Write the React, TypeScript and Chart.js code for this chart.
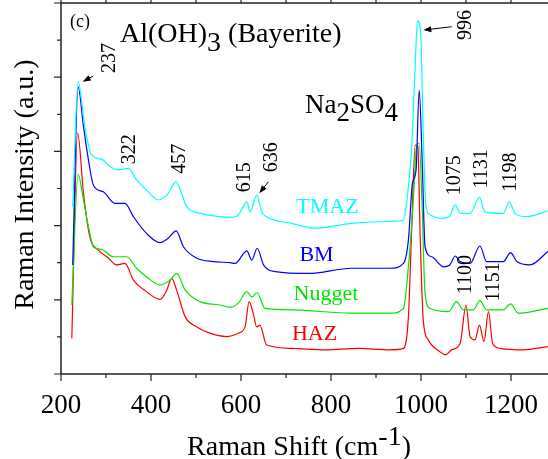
import { useEffect, useRef } from 'react';
import { Chart, registerables } from 'chart.js';
Chart.register(...registerables);

const FONT = '"Liberation Serif", "Times New Roman", Times, serif';

// ---- data (Raman shift in cm-1, intensity in a.u.) ----
const tmazX = [226, 238, 253, 268, 290, 309, 327, 350, 368, 394, 416, 435, 456, 468, 479, 509, 553, 576, 594, 605, 613, 620, 635, 646, 657, 713, 764, 846, 931, 961, 972, 979, 987, 992, 999, 1005, 1011, 1020, 1042, 1063, 1076, 1087, 1109, 1130, 1142, 1183, 1196, 1209, 1235, 1282];
const tmazY = [45.1, 78.8, 66.7, 59.0, 57.9, 55.9, 55.0, 55.4, 52.3, 49.1, 46.9, 48.2, 51.8, 48.7, 45.1, 43.3, 42.4, 42.2, 42.9, 45.1, 46.4, 43.7, 48.2, 43.7, 42.4, 40.6, 39.3, 40.6, 41.1, 41.5, 50.5, 60.4, 82.8, 95.2, 92.7, 64.9, 45.1, 42.9, 42.0, 42.4, 45.6, 43.3, 43.3, 47.6, 43.7, 43.3, 46.4, 43.3, 42.4, 44.0];

const bmX = [226, 238, 250, 261, 272, 294, 320, 342, 361, 390, 420, 438, 456, 472, 502, 538, 576, 587, 613, 624, 636, 650, 676, 750, 846, 931, 961, 972, 981, 989, 996, 1003, 1009, 1024, 1050, 1064, 1076, 1087, 1109, 1131, 1146, 1183, 1199, 1213, 1242, 1282];
const bmY = [29.4, 77.4, 66.7, 57.7, 50.9, 49.1, 46.0, 46.0, 42.4, 37.9, 35.4, 36.6, 38.6, 34.3, 31.2, 30.3, 30.0, 29.8, 33.2, 30.7, 33.9, 29.4, 27.6, 27.1, 28.5, 28.5, 29.8, 36.1, 51.4, 55.0, 76.5, 55.9, 34.3, 31.6, 28.9, 29.4, 31.8, 30.3, 29.8, 34.5, 30.3, 30.3, 32.7, 30.3, 29.4, 33.0];

const nuggetX = [224, 238, 250, 261, 272, 290, 316, 346, 368, 390, 420, 442, 457, 476, 509, 553, 576, 594, 613, 624, 636, 653, 713, 846, 931, 961, 972, 983, 990, 996, 1002, 1009, 1020, 1061, 1079, 1094, 1116, 1131, 1146, 1183, 1199, 1216, 1282];
const nuggetY = [18.6, 53.8, 46.9, 39.7, 34.3, 33.6, 31.6, 31.6, 28.5, 26.2, 24.0, 25.3, 27.1, 22.6, 19.5, 18.6, 18.0, 19.1, 22.2, 20.8, 21.9, 17.7, 17.3, 16.4, 16.4, 17.7, 28.9, 46.9, 61.3, 62.2, 46.9, 21.8, 17.7, 16.8, 19.5, 17.3, 17.3, 19.8, 17.3, 17.3, 18.9, 16.4, 17.7];

const hazX = [224, 237, 250, 264, 283, 302, 324, 342, 361, 390, 420, 435, 446, 457, 476, 502, 531, 568, 594, 609, 618, 627, 635, 642, 657, 713, 787, 861, 931, 961, 972, 979, 987, 993, 998, 1005, 1016, 1042, 1055, 1068, 1087, 1100, 1109, 1120, 1130, 1140, 1150, 1159, 1176, 1227, 1282];
const hazY = [9.6, 65.0, 48.7, 37.0, 33.4, 31.6, 29.4, 29.8, 25.3, 22.2, 20.1, 22.6, 25.8, 22.6, 15.4, 12.7, 11.0, 10.1, 11.0, 12.7, 19.5, 16.4, 12.7, 13.2, 7.8, 6.9, 6.5, 6.9, 6.5, 6.9, 15.4, 37.9, 61.7, 61.3, 37.9, 14.6, 9.2, 6.0, 5.2, 6.5, 8.3, 18.6, 10.1, 9.2, 13.2, 8.7, 16.8, 8.3, 6.9, 6.5, 7.4];

const seriesNames = ['TMAZ', 'BM', 'Nugget', 'HAZ'];
const seriesColors = ['#00ffff', '#0000ff', '#00e600', '#ff0000'];

// ---- axis ticks ----
const xTickLabels = [200, 400, 600, 800, 1000, 1200];
const xMinorTicks = [300, 500, 700, 900, 1100, 1300];
const yMajorTicks = [0, 20, 40, 60, 80, 100];
const yMinorTicks = [10, 30, 50, 70, 90];

// ---- peak annotations (rotated labels), in data coordinates ----
const peakTexts = ['237', '322', '457', '615', '636', '996', '1075', '1131', '1198', '1100', '1151'];
const peakLabelX = [307.8, 353.3, 463.3, 608.9, 667.8, 1100, 1074.4, 1135.6, 1198.9, 1098.9, 1161.1];
const peakLabelY = [85.2, 60.6, 58.0, 53.0, 58.4, 94.1, 53.6, 55.3, 54.4, 26.8, 24.8];

// arrows: tail -> head
const arrowTailX = [271.8, 660.7, 1068.2];
const arrowTailY = [80.3, 51.8, 93.6];
const arrowHeadX = [248.2, 640.7, 1005.1];
const arrowHeadY = [78.8, 48.7, 92.7];

// series name labels (center x, baseline y)
const nameLabelX = [792.2, 767.8, 788.9, 763.3];
const nameLabelY = [43.4, 30.5, 19.9, 9.2];

type Part = { t: string; dy: number };

function richWidth(ctx: CanvasRenderingContext2D, parts: Part[]) {
  return parts.reduce((w, p) => w + ctx.measureText(p.t).width, 0);
}
function drawRich(ctx: CanvasRenderingContext2D, parts: Part[], x: number, y: number) {
  let cx = x;
  for (const p of parts) {
    ctx.fillText(p.t, cx, y + p.dy);
    cx += ctx.measureText(p.t).width;
  }
}

const decorPlugin = {
  id: 'decor',
  afterDatasetsDraw(chart: any) {
    const { ctx, chartArea, scales } = chart;
    const { left, top, right, bottom } = chartArea;
    const xs = scales.x;
    const ys = scales.y;
    ctx.save();
    // frame
    ctx.strokeStyle = '#222';
    ctx.lineWidth = 1.5;
    ctx.beginPath();
    ctx.moveTo(left, bottom);
    ctx.lineTo(left, top);
    ctx.lineTo(right, top);
    ctx.lineTo(right, bottom);
    ctx.lineTo(left, bottom);
    ctx.stroke();
    // x ticks (bottom outward, top outward)
    ctx.lineWidth = 1.2;
    ctx.beginPath();
    const xt = (v: number, len: number) => {
      const px = xs.getPixelForValue(v);
      ctx.moveTo(px, bottom);
      ctx.lineTo(px, bottom + len);
      ctx.moveTo(px, top);
      ctx.lineTo(px, top - len);
    };
    xTickLabels.forEach((v) => xt(v, 7));
    xMinorTicks.forEach((v) => xt(v, 4));
    const yt = (v: number, len: number) => {
      const py = ys.getPixelForValue(v);
      ctx.moveTo(left, py);
      ctx.lineTo(left - len, py);
    };
    yMajorTicks.forEach((v) => yt(v, 7));
    yMinorTicks.forEach((v) => yt(v, 4));
    ctx.stroke();

    ctx.fillStyle = '#000';
    // rotated peak labels
    ctx.font = `20px ${FONT}`;
    ctx.textAlign = 'center';
    ctx.textBaseline = 'middle';
    peakTexts.forEach((t, i) => {
      const px = xs.getPixelForValue(peakLabelX[i]);
      const py = ys.getPixelForValue(peakLabelY[i]);
      ctx.save();
      ctx.translate(px, py);
      ctx.rotate(-Math.PI / 2);
      ctx.fillText(t, 0, 0);
      ctx.restore();
    });
    // arrows
    arrowTailX.forEach((_, i) => {
      const x1 = xs.getPixelForValue(arrowTailX[i]);
      const y1 = ys.getPixelForValue(arrowTailY[i]);
      const x2 = xs.getPixelForValue(arrowHeadX[i]);
      const y2 = ys.getPixelForValue(arrowHeadY[i]);
      const a = Math.atan2(y2 - y1, x2 - x1);
      ctx.strokeStyle = '#000';
      ctx.lineWidth = 1;
      ctx.beginPath();
      ctx.moveTo(x1, y1);
      ctx.lineTo(x2 - 5 * Math.cos(a), y2 - 5 * Math.sin(a));
      ctx.stroke();
      ctx.beginPath();
      ctx.moveTo(x2, y2);
      ctx.lineTo(x2 - 8 * Math.cos(a) + 3 * Math.sin(a), y2 - 8 * Math.sin(a) - 3 * Math.cos(a));
      ctx.lineTo(x2 - 8 * Math.cos(a) - 3 * Math.sin(a), y2 - 8 * Math.sin(a) + 3 * Math.cos(a));
      ctx.closePath();
      ctx.fill();
    });
    // series names
    ctx.font = `22px ${FONT}`;
    ctx.textBaseline = 'alphabetic';
    seriesNames.forEach((n, i) => {
      ctx.fillStyle = seriesColors[i];
      ctx.fillText(n, xs.getPixelForValue(nameLabelX[i]), ys.getPixelForValue(nameLabelY[i]));
    });
    // compound labels
    ctx.fillStyle = '#000';
    ctx.textAlign = 'left';
    ctx.font = `18px ${FONT}`;
    ctx.fillText('(c)', xs.getPixelForValue(220), ys.getPixelForValue(93.5));
    ctx.font = `28px ${FONT}`;
    drawRich(ctx, [{ t: 'Al(OH)', dy: 0 }, { t: '3', dy: 9 }, { t: ' (Bayerite)', dy: 0 }],
      xs.getPixelForValue(331.1), ys.getPixelForValue(89.5));
    ctx.font = `27px ${FONT}`;
    drawRich(ctx, [{ t: 'Na', dy: 0 }, { t: '2', dy: 8 }, { t: 'SO', dy: 0 }, { t: '4', dy: 8 }],
      xs.getPixelForValue(742.2), ys.getPixelForValue(70.4));

    // axis titles
    ctx.font = `28px ${FONT}`;
    const xt2: Part[] = [{ t: 'Raman Shift (cm', dy: 0 }, { t: '-1', dy: -10 }, { t: ')', dy: 0 }];
    const w = richWidth(ctx, xt2);
    drawRich(ctx, xt2, 299 - w / 2, 455);
    ctx.save();
    ctx.translate(33, (top + bottom) / 2 - 4);
    ctx.rotate(-Math.PI / 2);
    ctx.textAlign = 'center';
    ctx.fillText('Raman Intensity (a.u.)', 0, 0);
    ctx.restore();
    ctx.restore();
  },
};

export default function App() {
  const ref = useRef<HTMLCanvasElement | null>(null);
  useEffect(() => {
    if (!ref.current) return;
    const xsArr = [tmazX, bmX, nuggetX, hazX];
    const ysArr = [tmazY, bmY, nuggetY, hazY];
    const chart = new Chart(ref.current, {
      type: 'line',
      data: {
        datasets: seriesNames.map((name, i) => ({
          label: name,
          data: xsArr[i].map((x, j) => ({ x, y: ysArr[i][j] })),
          borderColor: seriesColors[i],
          borderWidth: 1.2,
          pointRadius: 0,
          fill: false,
          cubicInterpolationMode: 'monotone' as const,
        })),
      },
      options: {
        animation: false,
        responsive: true,
        maintainAspectRatio: false,
        layout: { padding: { top: 3, right: 4, left: 0, bottom: 0 } },
        plugins: { legend: { display: false }, tooltip: { enabled: false } },
        scales: {
          x: {
            type: 'linear',
            min: 200,
            max: 1300,
            afterFit: (s: any) => { s.height = 85; },
            afterBuildTicks: (s: any) => { s.ticks = xTickLabels.map((v) => ({ value: v })); },
            ticks: {
              font: { family: FONT, size: 27 },
              color: '#000',
              padding: 8,
              maxRotation: 0,
              autoSkip: false,
              callback: (v: any) => String(v),
            },
            grid: { display: false },
            border: { display: false },
          },
          y: {
            type: 'linear',
            min: 0,
            max: 100,
            afterFit: (s: any) => { s.width = 61; },
            ticks: { display: false },
            grid: { display: false },
            border: { display: false },
          },
        },
      },
      plugins: [decorPlugin],
    });
    return () => chart.destroy();
  }, []);
  return (
    <div style={{ position: 'fixed', left: 0, top: 0, width: 548, height: 459, overflow: 'hidden', background: '#fff' }}>
      <div style={{ width: 560, height: 459 }}>
        <canvas ref={ref} />
      </div>
    </div>
  );
}
